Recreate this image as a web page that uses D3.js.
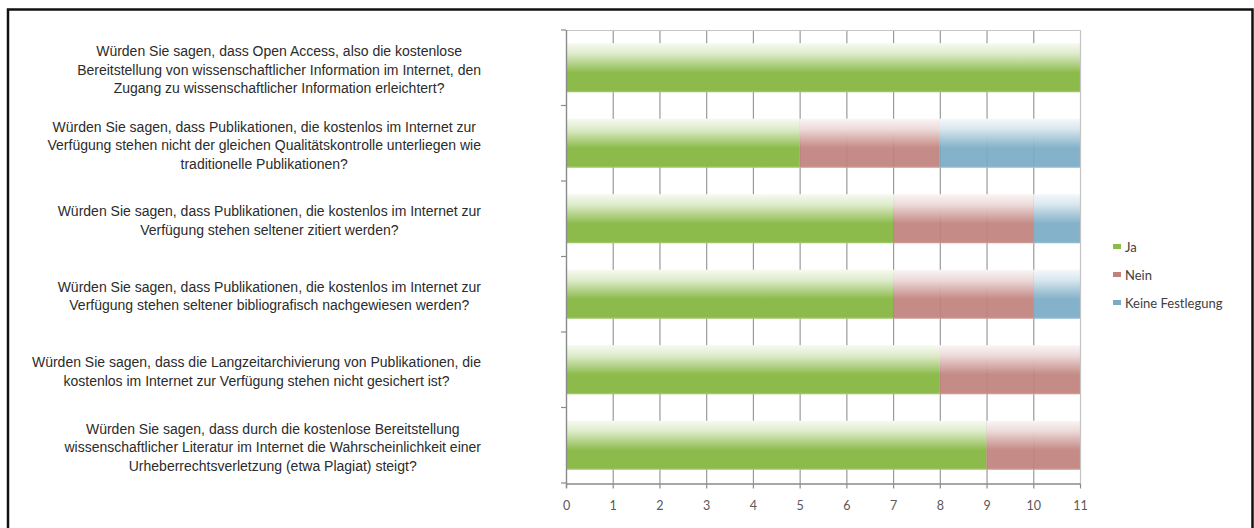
<!DOCTYPE html>
<html>
<head>
<meta charset="utf-8">
<script src="https://cdn.jsdelivr.net/npm/d3@7"></script>
<style>
  body { margin: 0; background: #fff; }
</style>
</head>
<body>
<div id="chart"></div>
<script>
// questions, each split into the lines shown on the chart
var questions = [
    ["Würden Sie sagen, dass Open Access, also die kostenlose",
     "Bereitstellung von wissenschaftlicher Information im Internet, den",
     "Zugang zu wissenschaftlicher Information erleichtert?"],
    ["Würden Sie sagen, dass Publikationen, die kostenlos im Internet zur",
     "Verfügung stehen nicht der gleichen Qualitätskontrolle unterliegen wie",
     "traditionelle Publikationen?"],
    ["Würden Sie sagen, dass Publikationen, die kostenlos im Internet zur",
     "Verfügung stehen seltener zitiert werden?"],
    ["Würden Sie sagen, dass Publikationen, die kostenlos im Internet zur",
     "Verfügung stehen seltener bibliografisch nachgewiesen werden?"],
    ["Würden Sie sagen, dass die Langzeitarchivierung von Publikationen, die",
     "kostenlos im Internet zur Verfügung stehen nicht gesichert ist?"],
    ["Würden Sie sagen, dass durch die kostenlose Bereitstellung",
     "wissenschaftlicher Literatur im Internet die Wahrscheinlichkeit einer",
     "Urheberrechtsverletzung (etwa Plagiat) steigt?"]
];

var seriesNames = ["Ja", "Nein", "Keine Festlegung"];
var ja     = [11, 5, 7, 7, 8, 9];
var nein   = [0, 3, 3, 3, 3, 2];
var keine  = [0, 3, 1, 1, 0, 0];
var xTicks = [0, 1, 2, 3, 4, 5, 6, 7, 8, 9, 10, 11];

var config = {
    colors: ["#8cbb4b", "#c0817c", "#79abc5"],
    width: 1254,
    height: 528,
    plot: { left: 566, right: 1080, top: 30, bottom: 483 },
    labelRight: 481,
    labelFont: "'Liberation Sans', Arial, sans-serif",
    labelSize: 14,
    lineHeight: 18.5
};

var svg = d3.select("#chart").append("svg")
    .attr("width", config.width)
    .attr("height", config.height);

// outer frame
svg.append("rect")
    .attr("x", 8).attr("y", 9.5)
    .attr("width", 1244.5).attr("height", 530)
    .attr("fill", "none")
    .attr("stroke", "#111")
    .attr("stroke-width", 2.5);

var x = d3.scaleLinear().domain([0, 11])
    .range([config.plot.left, config.plot.right]);
var y = d3.scaleBand().domain(d3.range(questions.length))
    .range([config.plot.top, config.plot.bottom])
    .paddingInner(0.35).paddingOuter(0.175);

// gradients: faded top, solid bottom
var defs = svg.append("defs");
config.colors.forEach(function (c, i) {
    var g = defs.append("linearGradient")
        .attr("id", "grad" + i)
        .attr("x1", 0).attr("y1", 0).attr("x2", 0).attr("y2", 1);
    var solidOpacity = i == 0 ? 1 : 0.92;
    var pale = d3.interpolateRgb("#ffffff", c);
    g.append("stop").attr("offset", "0%").attr("stop-color", pale(0.08));
    g.append("stop").attr("offset", "22%").attr("stop-color", pale(0.3));
    g.append("stop").attr("offset", "60%").attr("stop-color", c).attr("stop-opacity", solidOpacity);
    g.append("stop").attr("offset", "96%").attr("stop-color", c).attr("stop-opacity", solidOpacity);
    g.append("stop").attr("offset", "100%").attr("stop-color", pale(0.75));
});

// gridlines
svg.append("g").selectAll("line")
    .data(xTicks.slice(1, -1))
    .enter().append("line")
    .attr("x1", function (d) { return x(d) + 0.5; })
    .attr("x2", function (d) { return x(d) + 0.5; })
    .attr("y1", config.plot.top)
    .attr("y2", config.plot.bottom)
    .attr("stroke", "#9a9a9a")
    .attr("stroke-width", 1.2);

// stacked bars
var stackData = questions.map(function (q, i) {
    return { i: i, Ja: ja[i], Nein: nein[i], "Keine Festlegung": keine[i] };
});
var stacked = d3.stack().keys(seriesNames)(stackData);

stacked.forEach(function (layer, si) {
    svg.append("g").selectAll("rect")
        .data(layer.filter(function (d) { return d[1] > d[0]; }))
        .enter().append("rect")
        .attr("x", function (d) { return x(d[0]); })
        .attr("width", function (d) { return x(d[1]) - x(d[0]); })
        .attr("y", function (d) { return y(d.data.i); })
        .attr("height", y.bandwidth())
        .attr("fill", "url(#grad" + si + ")");
});

// plot frame top/right (light)
svg.append("path")
    .attr("d", "M" + config.plot.left + "," + (config.plot.top + 0.5) +
               "H" + (config.plot.right + 0.5) + "V" + config.plot.bottom)
    .attr("fill", "none")
    .attr("stroke", "#c4c4c4")
    .attr("stroke-width", 1.2);

// x axis
var xAxis = svg.append("g")
    .attr("transform", "translate(0," + (config.plot.bottom + 0.5) + ")")
    .call(d3.axisBottom(x).tickValues(xTicks).tickSize(5).tickSizeOuter(0).tickPadding(13));
xAxis.select(".domain").attr("stroke", "#8a8a8a").attr("stroke-width", 1.4);
xAxis.selectAll(".tick line").attr("stroke", "#8a8a8a").attr("stroke-width", 1.2);
xAxis.selectAll(".tick text")
    .attr("font-family", "Lato, 'Open Sans', sans-serif")
    .attr("font-size", 12.5)
    .attr("fill", "#595959");

// y axis line with ticks between categories
var yAxis = svg.append("g");
yAxis.append("line")
    .attr("x1", config.plot.left + 0.5).attr("x2", config.plot.left + 0.5)
    .attr("y1", config.plot.top).attr("y2", config.plot.bottom + 5)
    .attr("stroke", "#8a8a8a").attr("stroke-width", 1.4);
yAxis.selectAll(".sep")
    .data(d3.range(questions.length + 1))
    .enter().append("line")
    .attr("x1", config.plot.left - 5).attr("x2", config.plot.left)
    .attr("y1", function (d) { return config.plot.top + d * y.step(); })
    .attr("y2", function (d) { return config.plot.top + d * y.step(); })
    .attr("stroke", "#8a8a8a").attr("stroke-width", 1.2);

// category labels: lines centred within a block whose right edge is fixed
questions.forEach(function (lines, i) {
    var g = svg.append("g");
    var texts = g.selectAll("text").data(lines).enter().append("text")
        .attr("font-family", config.labelFont)
        .attr("font-size", config.labelSize)
        .attr("fill", "#2b2b2b")
        .attr("text-anchor", "middle")
        .text(function (d) { return d; });
    var maxW = 0;
    texts.each(function () { maxW = Math.max(maxW, this.getComputedTextLength()); });
    var cx = config.labelRight - maxW / 2;
    var cy = y(i) + y.bandwidth() / 2 + 2;
    var top = cy - (lines.length - 1) * config.lineHeight / 2;
    texts.attr("x", cx)
        .attr("y", function (d, j) { return top + j * config.lineHeight; })
        .attr("dy", "0.35em");
});

// legend
var legend = svg.append("g").attr("transform", "translate(1113,247)");
seriesNames.forEach(function (name, i) {
    var row = legend.append("g").attr("transform", "translate(0," + i * 28 + ")");
    row.append("rect")
        .attr("x", 0).attr("y", -3)
        .attr("width", 8).attr("height", 5)
        .attr("fill", config.colors[i]);
    row.append("text")
        .attr("x", 12).attr("y", 0).attr("dy", "0.35em")
        .attr("font-family", "Lato, 'Open Sans', sans-serif")
        .attr("font-size", 13)
        .attr("fill", "#404040")
        .text(name);
});
</script>
</body>
</html>
